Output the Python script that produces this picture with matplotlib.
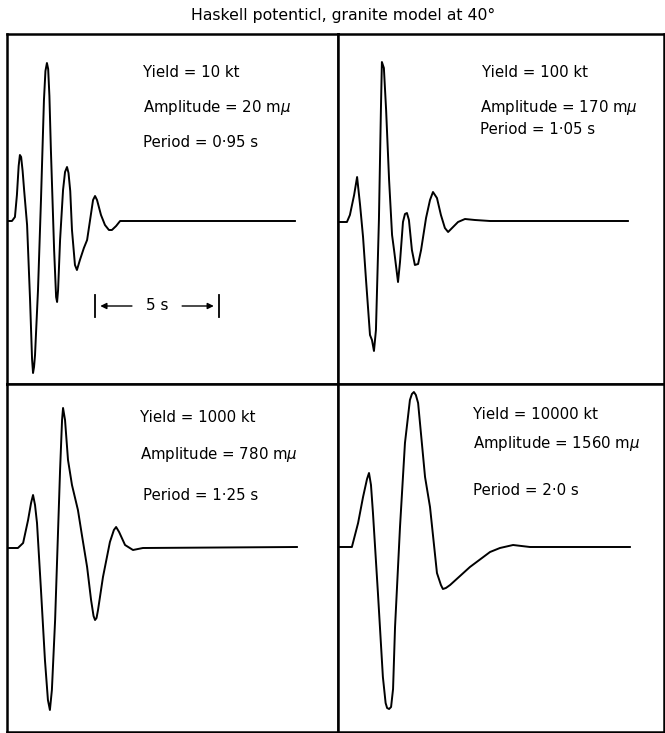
import numpy as np
import matplotlib
matplotlib.use("Agg")
import matplotlib.pyplot as plt

plt.rcParams['font.family'] = ['DejaVu Sans']

# P-wave traces, time in seconds from panel edge, relative deflection (up positive)
t_10kt = [0.00, 0.20, 0.32, 0.40, 0.47, 0.52, 0.57, 0.63, 0.69, 0.81, 0.93, 1.01, 1.05, 1.09,
          1.13, 1.25, 1.37, 1.49, 1.55, 1.61, 1.66, 1.71, 1.77, 1.90, 1.98, 2.02, 2.06, 2.14,
          2.26, 2.34, 2.42, 2.48, 2.55, 2.62, 2.74, 2.82, 2.94, 3.10, 3.23, 3.35, 3.47, 3.55,
          3.63, 3.79, 3.95, 4.11, 4.23, 4.40, 4.56, 11.61]
a_10kt = [0.00, 0.00, 0.04, 0.26, 0.55, 0.66, 0.64, 0.50, 0.31, -0.04, -0.79, -1.38, -1.52,
          -1.46, -1.34, -0.69, 0.21, 1.21, 1.50, 1.58, 1.52, 1.25, 0.71, -0.29, -0.76, -0.81,
          -0.69, -0.19, 0.31, 0.49, 0.54, 0.48, 0.30, -0.09, -0.44, -0.49, -0.39, -0.27, -0.19,
          0.01, 0.21, 0.25, 0.21, 0.06, -0.04, -0.09, -0.09, -0.05, 0.00, 0.00]

t_100kt = [0.00, 0.36, 0.48, 0.65, 0.77, 0.89, 1.01, 1.13, 1.29, 1.37, 1.45, 1.53, 1.65,
           1.73, 1.77, 1.85, 1.94, 2.06, 2.18, 2.26, 2.42, 2.50, 2.62, 2.70, 2.78, 2.86,
           2.98, 3.10, 3.23, 3.35, 3.55, 3.71, 3.83, 3.99, 4.15, 4.31, 4.44, 4.60, 4.84,
           5.12, 5.52, 6.13, 11.69]
a_100kt = [0.00, 0.00, 0.07, 0.27, 0.45, 0.17, -0.15, -0.58, -1.13, -1.18, -1.29, -1.08, 0.02,
           1.12, 1.60, 1.54, 1.12, 0.42, -0.13, -0.28, -0.60, -0.40, 0.00, 0.08, 0.09, 0.02,
           -0.28, -0.43, -0.42, -0.28, 0.04, 0.22, 0.30, 0.24, 0.07, -0.06, -0.10, -0.06, 0.00,
           0.03, 0.02, 0.01, 0.01]

t_1000kt = [0.00, 0.44, 0.65, 0.85, 0.97, 1.05, 1.13, 1.21, 1.37, 1.53, 1.65, 1.73, 1.81,
            1.94, 2.02, 2.14, 2.22, 2.26, 2.34, 2.46, 2.62, 2.86, 3.02, 3.23, 3.39, 3.49, 3.55,
            3.61, 3.67, 3.87, 4.15, 4.31, 4.40, 4.52, 4.76, 5.08, 5.48, 11.69]
a_1000kt = [0.00, 0.00, 0.05, 0.28, 0.45, 0.53, 0.43, 0.25, -0.42, -1.12, -1.52, -1.62, -1.42,
            -0.72, -0.12, 0.78, 1.28, 1.40, 1.28, 0.88, 0.63, 0.38, 0.13, -0.19, -0.52, -0.68,
            -0.72, -0.70, -0.62, -0.29, 0.06, 0.18, 0.21, 0.16, 0.03, -0.02, 0.00, 0.01]

t_10000kt = [0.00, 0.56, 0.81, 1.01, 1.17, 1.25, 1.33, 1.41, 1.61, 1.81, 1.92, 1.98, 2.06, 2.14,
             2.22, 2.30, 2.50, 2.70, 2.90, 2.98, 3.06, 3.14, 3.23, 3.51, 3.71, 3.99, 4.15, 4.23,
             4.35, 4.52, 5.32, 6.13, 6.53, 7.06, 7.74, 11.77]
a_10000kt = [0.00, 0.00, 0.24, 0.50, 0.68, 0.74, 0.62, 0.34, -0.46, -1.30, -1.56, -1.61, -1.62,
             -1.60, -1.42, -0.80, 0.20, 1.04, 1.47, 1.53, 1.55, 1.52, 1.44, 0.70, 0.40, -0.26,
             -0.38, -0.42, -0.41, -0.38, -0.20, -0.05, -0.01, 0.02, 0.00, 0.00]

yields = ['10', '100', '1000', '10000']
amplitudes = ['20', '170', '780', '1560']
periods = ['0·95', '1·05', '1·25', '2·0']

fig = plt.figure(figsize=(6.65, 7.33), dpi=100)
W, H = 665.0, 733.0

def panel(x0, x1, y0, y1):
    return fig.add_axes([x0 / W, 1 - y1 / H, (x1 - x0) / W, (y1 - y0) / H])

# panel boxes in pixels (left, right, top, bottom) and vertical limits
boxes = [(7, 338, 34, 384), (338, 664, 34, 384), (7, 338, 384, 732), (338, 664, 384, 732)]
ylims = [(-1.63, 1.87), (-1.62, 1.88), (-1.84, 1.64), (-1.85, 1.63)]
traces = [(t_10kt, a_10kt), (t_100kt, a_100kt), (t_1000kt, a_1000kt), (t_10000kt, a_10000kt)]
text_xy = [[(0.411, 0.889), (0.411, 0.789), (0.411, 0.691)],
           [(0.442, 0.889), (0.436, 0.791), (0.436, 0.726)],
           [(0.402, 0.905), (0.402, 0.796), (0.411, 0.681)],
           [(0.414, 0.911), (0.414, 0.830), (0.414, 0.695)]]
px_per_s = 24.8

axes = []
for i, (box, yl, (t, a)) in enumerate(zip(boxes, ylims, traces)):
    ax = panel(*box)
    ax.plot(t, a, color='black', lw=1.4, solid_joinstyle='round')
    ax.set_xlim(0, (box[1] - box[0]) / px_per_s)
    ax.set_ylim(*yl)
    ax.set_xticks([])
    ax.set_yticks([])
    for s in ax.spines.values():
        s.set_linewidth(1.8)
    labels = [f'Yield = {yields[i]} kt',
              f'Amplitude = {amplitudes[i]} m$\\mu$',
              f'Period = {periods[i]} s']
    for (tx, ty), lab in zip(text_xy[i], labels):
        ax.text(tx, ty, lab, transform=ax.transAxes, fontsize=10.8, va='center', ha='left')
    axes.append(ax)

# 5 s time scale bar in the first panel
ax = axes[0]
bar_l, bar_r, bar_y = 3.55, 8.55, -0.85
ax.plot([bar_l, bar_l], [bar_y - 0.11, bar_y + 0.11], color='black', lw=1.3)
ax.plot([bar_r, bar_r], [bar_y - 0.11, bar_y + 0.11], color='black', lw=1.3)
ax.text((bar_l + bar_r) / 2, bar_y, '5 s', fontsize=11, ha='center', va='center')
ax.annotate('', xy=(bar_l + 0.1, bar_y), xytext=(bar_l + 1.6, bar_y),
            arrowprops=dict(arrowstyle='-|>', color='black', lw=1.0, mutation_scale=9))
ax.annotate('', xy=(bar_r - 0.1, bar_y), xytext=(bar_r - 1.6, bar_y),
            arrowprops=dict(arrowstyle='-|>', color='black', lw=1.0, mutation_scale=9))

fig.text(343 / W, 1 - 15 / H, 'Haskell potenticl, granite model at 40°', ha='center', va='center',
         fontsize=11.3)

plt.savefig('out.png', dpi=100)
plt.close(fig)
